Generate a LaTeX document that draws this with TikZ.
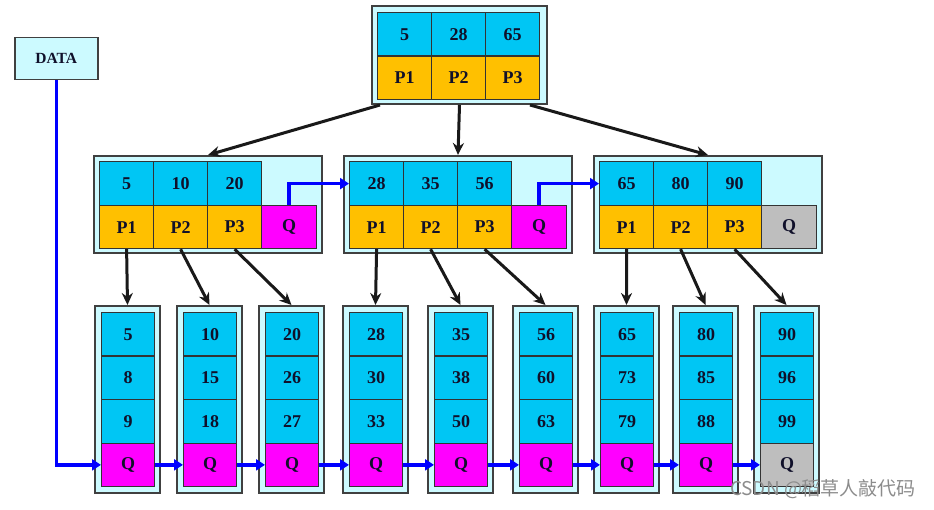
\documentclass[tikz,border=0pt]{standalone}
\usepackage{fontspec}
\setmainfont{Liberation Serif}
\newfontfamily\cjkfont{Noto Sans CJK SC}
\usetikzlibrary{arrows.meta,calc}
\definecolor{keyblue}{HTML}{00C6F4}
\definecolor{ptryellow}{HTML}{FFC000}
\definecolor{qmag}{HTML}{FF00FF}
\definecolor{qgray}{HTML}{BEBEBE}
\definecolor{boxfill}{HTML}{CCFAFF}
\definecolor{boxline}{HTML}{404040}
\definecolor{txt}{HTML}{10102A}
\definecolor{linkblue}{HTML}{0000FF}
\begin{document}
\begin{tikzpicture}[x=1pt,y=-1pt,
  outerbox/.style={draw=boxline, fill=boxfill, line width=2pt, inner sep=0pt, anchor=north west},
  cell/.style={draw=black!80, line width=1.2pt, inner sep=0pt, anchor=north west, text=txt,
               font=\bfseries\fontsize{18}{18}\selectfont},
  tree/.style={draw=black!90, line width=3pt, -{Stealth[length=12pt,width=11pt]}},
  link/.style={draw=linkblue, line width=3.5pt, -{Triangle[length=9pt,width=11pt]}}
]
\fill[white] (0,0) rectangle (934,510);
\useasboundingbox (0,0) rectangle (934,510);

% DATA box
\node[outerbox, line width=1.5pt, minimum width=83pt, minimum height=42pt, text=txt,
      font=\bfseries\fontsize{15.5}{15.5}\selectfont] (data) at (14,37) {DATA};

% root
\node[outerbox, minimum width=175pt, minimum height=98pt] (root) at (371,5) {};
\foreach \k/\v/\x in {1/5/377, 2/28/431, 3/65/485}{
  \node[cell, fill=keyblue, minimum width=54pt, minimum height=43.5pt] (rk\k) at (\x,12) {\v};
  \node[cell, fill=ptryellow, minimum width=54pt, minimum height=43.5pt] (rp\k) at (\x,55.5) {P\k};
}

% middle level
\foreach \m/\off/\a/\b/\c/\qc in {1/0/5/10/20/qmag, 2/250/28/35/56/qmag, 3/500/65/80/90/qgray}{
  \node[outerbox, minimum width=228pt, minimum height=97pt] (m\m) at (93+\off,155) {};
  \node[cell, fill=keyblue, minimum width=54pt, minimum height=44pt] (m\m k1) at (99+\off,161) {\a};
  \node[cell, fill=keyblue, minimum width=54pt, minimum height=44pt] (m\m k2) at (153+\off,161) {\b};
  \node[cell, fill=keyblue, minimum width=54pt, minimum height=44pt] (m\m k3) at (207+\off,161) {\c};
  \node[cell, fill=ptryellow, minimum width=54pt, minimum height=43pt] (m\m p1) at (99+\off,205) {P1};
  \node[cell, fill=ptryellow, minimum width=54pt, minimum height=43pt] (m\m p2) at (153+\off,205) {P2};
  \node[cell, fill=ptryellow, minimum width=54pt, minimum height=43pt] (m\m p3) at (207+\off,205) {P3};
  \node[cell, fill=\qc, minimum width=55pt, minimum height=43pt] (m\m q) at (261+\off,205) {Q};
}

% leaves
\foreach \n/\L/\a/\b/\c/\qc in {1/94/5/8/9/qmag, 2/176/10/15/18/qmag, 3/258/20/26/27/qmag,
    4/342/28/30/33/qmag, 5/427/35/38/50/qmag, 6/512/56/60/63/qmag,
    7/593/65/73/79/qmag, 8/672/80/85/88/qmag, 9/753/90/96/99/qgray}{
  \node[outerbox, minimum width=65pt, minimum height=187pt] (l\n) at (\L,305) {};
  \node[cell, fill=keyblue, minimum width=53pt, minimum height=43.5pt] (l\n a) at (\L+7,312) {\a};
  \node[cell, fill=keyblue, minimum width=53pt, minimum height=43.5pt] (l\n b) at (\L+7,355.5) {\b};
  \node[cell, fill=keyblue, minimum width=53pt, minimum height=43.5pt] (l\n c) at (\L+7,399) {\c};
  \node[cell, fill=\qc, minimum width=53pt, minimum height=43.5pt] (l\n q) at (\L+7,442.5) {Q};
}

% root -> middle
\draw[tree] ([xshift=9pt]root.south west) -- (m1.north);
\draw[tree] (root.south) -- (m2.north);
\draw[tree] ([xshift=-18pt]root.south east) -- (m3.north);

% middle -> leaves
\foreach \m/\a/\b/\c in {1/1/2/3, 2/4/5/6, 3/7/8/9}{
  \draw[tree] (m\m p1.south) -- (l\a.north);
  \draw[tree] (m\m p2.south) -- (l\b.north);
  \draw[tree] (m\m p3.south) -- (l\c.north);
}

% sibling links
\draw[link] (m1q.north) |- (m2k1.west);
\draw[link] (m2q.north) |- (m3k1.west);
\foreach \i [evaluate=\i as \j using int(\i+1)] in {1,...,8}
  \draw[link] (l\i q.east) -- (l\j q.west);
\draw[link] (data.south) |- (l1q.west);

% watermark
\node[text=black!45, font=\cjkfont\fontsize{19}{19}\selectfont] (wm) at (823,489) {CSDN @稻草人敲代码};
\end{tikzpicture}
\end{document}
